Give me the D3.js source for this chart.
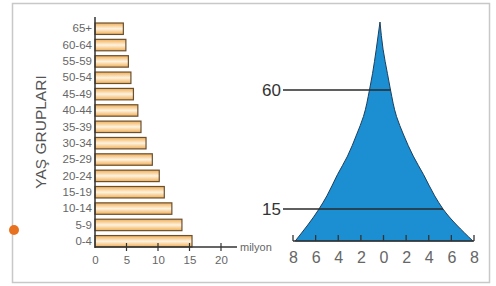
<!DOCTYPE html>
<meta charset="utf-8">
<style>
body { margin: 0; background: #fff; }
svg { display: block; font-family: "Liberation Sans", Arial, sans-serif; }
.axis text { fill: #666; }
</style>
<body>
<div id="chart"></div>
<script src="https://cdn.jsdelivr.net/npm/d3@7"></script>
<script>
// left: age groups (millions)
var ageGroups = ["0-4", "5-9", "10-14", "15-19", "20-24", "25-29", "30-34", "35-39", "40-44", "45-49", "50-54", "55-59", "60-64", "65+"];
var population = [15.4, 13.8, 12.2, 11.0, 10.2, 9.1, 8.1, 7.3, 6.8, 6.1, 5.7, 5.3, 4.9, 4.5];
var barTicks = [0, 5, 10, 15, 20];

// right: pyramid outline (age, left / right half width in millions)
var pyrAges = [0, 15, 20, 28, 35, 43, 50, 60, 66, 75, 85];
var pyrLeft = [7.8, 5.7, 5.0, 4.07, 3.18, 2.39, 1.77, 1.24, 0.97, 0.64, 0.31];
var pyrRight = [7.9, 5.26, 4.52, 3.54, 2.63, 1.78, 1.15, 0.62, 0.35, -0.04, -0.31];
var pyrTicks = [-8, -6, -4, -2, 0, 2, 4, 6, 8];
var markedAges = [60, 15];

var W = 496, H = 286;
var svg = d3.select("#chart").append("svg").attr("width", W).attr("height", H);

// frame
svg.append("rect").attr("x", 12.5).attr("y", 3.5).attr("width", 477).attr("height", 279)
  .attr("fill", "#fff").attr("stroke", "#c8c8c8").attr("stroke-width", 1.5);
svg.append("circle").attr("cx", 14).attr("cy", 230).attr("r", 5).attr("fill", "#e8711f");

var grad = svg.append("defs").append("linearGradient").attr("id", "barGrad")
  .attr("x1", 0).attr("y1", 0).attr("x2", 0).attr("y2", 1);
grad.append("stop").attr("offset", "0%").attr("stop-color", "#f0ae55");
grad.append("stop").attr("offset", "50%").attr("stop-color", "#fff3e0");
grad.append("stop").attr("offset", "100%").attr("stop-color", "#f0ae55");

// ---- bar chart ----
var x = d3.scaleLinear().domain([0, 20]).range([95, 221]);
var y = d3.scaleBand().domain(ageGroups).range([247, 23]).paddingInner(0.3).paddingOuter(0);

svg.append("g").selectAll("rect")
  .data(ageGroups)
  .enter().append("rect")
  .attr("x", x(0))
  .attr("y", function(d) { return y(d); })
  .attr("width", function(d, i) { return x(population[i]) - x(0); })
  .attr("height", y.bandwidth())
  .attr("fill", "url(#barGrad)")
  .attr("stroke", "#6b5030").attr("stroke-width", 1.2);

var yAxis = svg.append("g").attr("class", "axis")
  .attr("transform", "translate(" + x(0) + ",0)")
  .call(d3.axisLeft(y).tickSize(0).tickPadding(3));
yAxis.select(".domain").remove();
yAxis.selectAll("text").style("font-size", "11.5px");
svg.append("line").attr("x1", x(0)).attr("x2", x(0)).attr("y1", 17).attr("y2", 248)
  .attr("stroke", "#333").attr("stroke-width", 1.5);

var xAxis = svg.append("g").attr("class", "axis")
  .attr("transform", "translate(0,247)")
  .call(d3.axisBottom(x).tickValues(barTicks).tickSize(0).tickPadding(9));
xAxis.select(".domain").remove();
xAxis.selectAll("text").style("font-size", "11.5px");
svg.append("line").attr("x1", x(0)).attr("x2", 237).attr("y1", 247).attr("y2", 247)
  .attr("stroke", "#333").attr("stroke-width", 1.5);
svg.append("g").selectAll("line").data(barTicks.slice(1)).enter().append("line")
  .attr("x1", function(d) { return x(d); }).attr("x2", function(d) { return x(d); })
  .attr("y1", 243).attr("y2", 251).attr("stroke", "#333").attr("stroke-width", 1.2);
svg.append("text").attr("x", 240).attr("y", 247).attr("dy", "0.32em")
  .attr("fill", "#666").style("font-size", "11px").text("milyon");

svg.append("text").attr("transform", "translate(46,132) rotate(-90)")
  .attr("text-anchor", "middle").attr("fill", "#555").style("font-size", "15.5px")
  .text("YAŞ GRUPLARI");

// ---- pyramid ----
var px = d3.scaleLinear().domain([-8, 8]).range([293, 474]);
var py = d3.scaleLinear().domain([0, 15, 60, 85]).range([241, 209, 90, 22]);

var leftPts = pyrAges.map(function(a, i) { return [px(-pyrLeft[i]), py(a)]; });
var rightPts = pyrAges.map(function(a, i) { return [px(pyrRight[i]), py(a)]; }).reverse();
var edge = d3.line().curve(d3.curveMonotoneY);
var d = edge(leftPts) + edge(rightPts).replace(/^M/, "L") + "Z";

svg.append("path").attr("d", d)
  .attr("fill", "#1b8fd2").attr("stroke", "#1d3f5e").attr("stroke-width", 1);

// marked age lines
markedAges.forEach(function(a) {
  var i = pyrAges.indexOf(a);
  svg.append("line").attr("x1", 283).attr("x2", px(pyrRight[i]))
    .attr("y1", py(a)).attr("y2", py(a))
    .attr("stroke", "#2a2a2a").attr("stroke-width", 1.3);
  svg.append("text").attr("x", 281).attr("y", py(a)).attr("dy", "0.35em")
    .attr("text-anchor", "end").attr("fill", "#333").style("font-size", "17px").text(a);
});

// pyramid axis
var pAxis = svg.append("g").attr("class", "axis")
  .attr("transform", "translate(0,241)")
  .call(d3.axisBottom(px).tickValues(pyrTicks).tickSize(0).tickPadding(11)
    .tickFormat(function(d) { return Math.abs(d); }));
pAxis.select(".domain").remove();
pAxis.selectAll("text").style("font-size", "16px").attr("fill", "#444");
svg.append("line").attr("x1", px(-8)).attr("x2", px(8)).attr("y1", 241).attr("y2", 241)
  .attr("stroke", "#333").attr("stroke-width", 1.5);
svg.append("g").selectAll("line").data(pyrTicks).enter().append("line")
  .attr("x1", function(d) { return px(d); }).attr("x2", function(d) { return px(d); })
  .attr("y1", 235).attr("y2", 241).attr("stroke", "#333").attr("stroke-width", 1.3);
</script>
</body>
